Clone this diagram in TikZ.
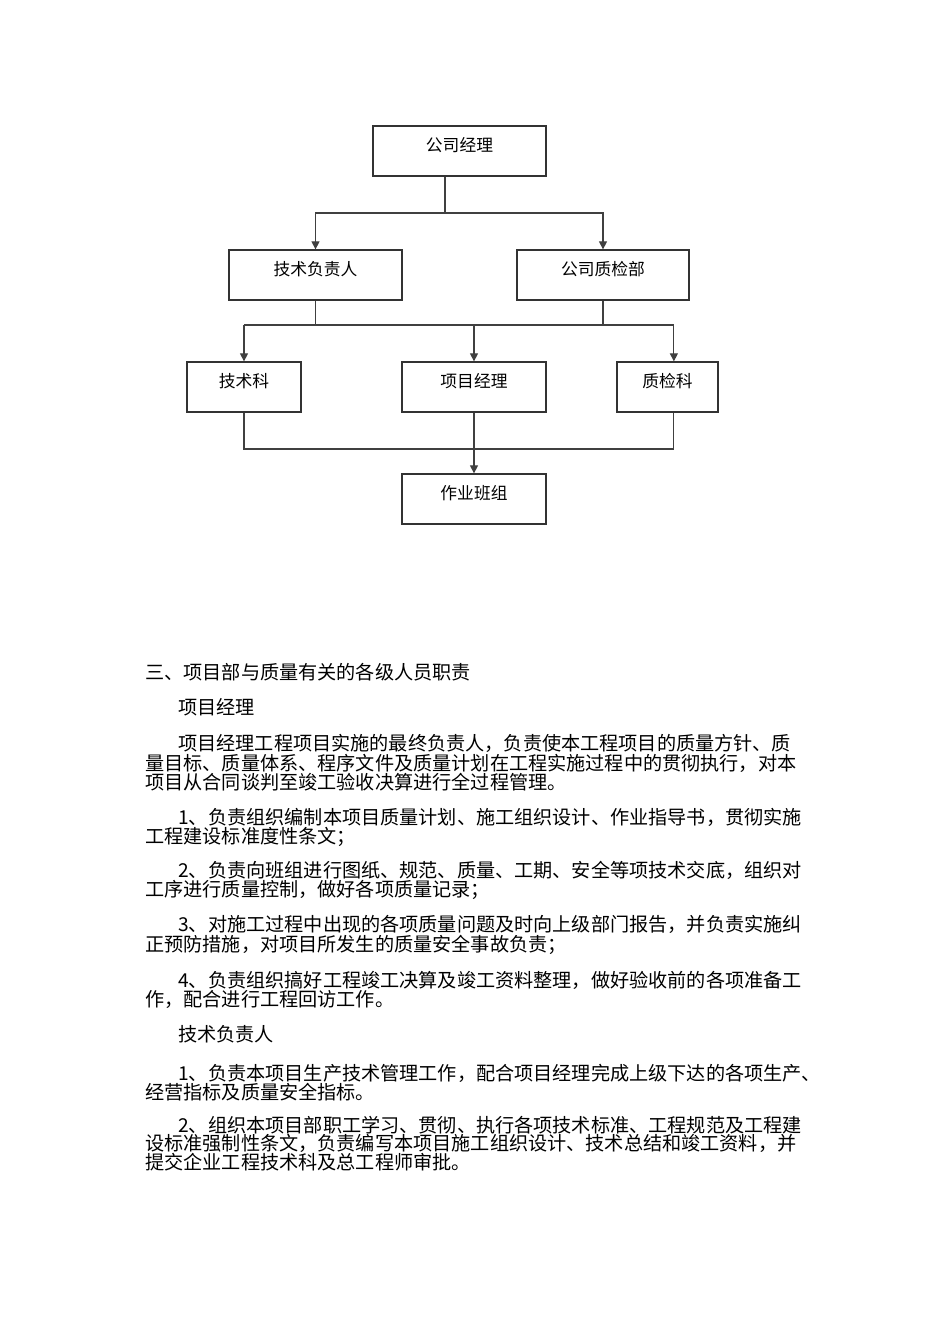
\documentclass[tikz,border=0pt]{standalone}
\usepackage{fontspec}
\setmainfont{Noto Sans CJK SC}
\usetikzlibrary{arrows.meta}
\def\pxu{0.6266pt}
\tikzset{
    box/.style={draw=black!80, line width=0.8pt, font=\fontsize{10.5pt}{12pt}\selectfont,
        minimum height=50*\pxu, text height=8pt, text depth=8pt, inner sep=0pt},
    link/.style={draw=black!75, line width=0.7pt},
    arr/.style={link, -{Triangle[width=5pt,length=5pt]}},
    body/.style={anchor=base west, inner sep=0pt, font=\fontsize{12pt}{12pt}\selectfont}
}
\begin{document}
\begin{tikzpicture}[x=0.6266pt, y=-0.6266pt]
    \useasboundingbox (0,0) rectangle (950,1344);
    % chart
    \node[box, minimum width=173*\pxu] (gsjl) at (459.5,151) {公司经理};
    \node[box, minimum width=173*\pxu] (jsfzr) at (315.5,275) {技术负责人};
    \node[box, minimum width=172*\pxu] (gszjb) at (603,275) {公司质检部};
    \node[box, minimum width=114*\pxu] (jsk) at (244,387) {技术科};
    \node[box, minimum width=144*\pxu] (xmjl) at (474,387) {项目经理};
    \node[box, minimum width=101*\pxu] (zjk) at (667.5,387) {质检科};
    \node[box, minimum width=144*\pxu] (zybz) at (474,499) {作业班组};
    \coordinate (topbus) at (445,213);
    \coordinate (midbus) at (474,325);
    \coordinate (lowbus) at (474,449);
    \coordinate (zjkin) at ([xshift=4pt]zjk.north);
    \coordinate (zjkout) at ([xshift=4pt]zjk.south);
    \draw[link] (gsjl.south -| topbus) -- (topbus);
    \draw[arr] (topbus) -| (jsfzr.north);
    \draw[arr] (topbus) -| (gszjb.north);
    \draw[link] (jsfzr.south) -- (jsfzr.south |- midbus);
    \draw[link] (gszjb.south) -- (gszjb.south |- midbus);
    \draw[link] (jsk.north |- midbus) -- (zjkin |- midbus);
    \draw[arr] (jsk.north |- midbus) -- (jsk.north);
    \draw[arr] (midbus) -- (xmjl.north);
    \draw[arr] (zjkin |- midbus) -- (zjkin);
    \draw[link] (jsk.south) |- (lowbus);
    \draw[link] (zjkout) |- (lowbus);
    \draw[arr] (xmjl.south) -- (zybz.north);
    % text
    \node[body] (t1) at (145,679) {三、项目部与质量有关的各级人员职责};
    \node[body] (t2) at (178,714) {项目经理};
    \node[body] (t3) at (178,750) {项目经理工程项目实施的最终负责人，负责使本工程项目的质量方针、质};
    \node[body] (t4) at (145,770) {量目标、质量体系、程序文件及质量计划在工程实施过程中的贯彻执行，对本};
    \node[body] (t5) at (145,789) {项目从合同谈判至竣工验收决算进行全过程管理。};
    \node[body] (t6) at (178,824) {1、负责组织编制本项目质量计划、施工组织设计、作业指导书，贯彻实施};
    \node[body] (t7) at (145,843) {工程建设标准度性条文；};
    \node[body] (t8) at (178,877) {2、负责向班组进行图纸、规范、质量、工期、安全等项技术交底，组织对};
    \node[body] (t9) at (145,896) {工序进行质量控制，做好各项质量记录；};
    \node[body] (t10) at (178,931) {3、对施工过程中出现的各项质量问题及时向上级部门报告，并负责实施纠};
    \node[body] (t11) at (145,951) {正预防措施，对项目所发生的质量安全事故负责；};
    \node[body] (t12) at (178,987) {4、负责组织搞好工程竣工决算及竣工资料整理，做好验收前的各项准备工};
    \node[body] (t13) at (145,1006) {作，配合进行工程回访工作。};
    \node[body] (t14) at (178,1041) {技术负责人};
    \node[body] (t15) at (178,1080) {1、负责本项目生产技术管理工作，配合项目经理完成上级下达的各项生产、};
    \node[body] (t16) at (145,1099) {经营指标及质量安全指标。};
    \node[body] (t17) at (178,1132) {2、组织本项目部职工学习、贯彻、执行各项技术标准、工程规范及工程建};
    \node[body] (t18) at (145,1150) {设标准强制性条文，负责编写本项目施工组织设计、技术总结和竣工资料，并};
    \node[body] (t19) at (145,1169) {提交企业工程技术科及总工程师审批。};
\end{tikzpicture}
\end{document}
